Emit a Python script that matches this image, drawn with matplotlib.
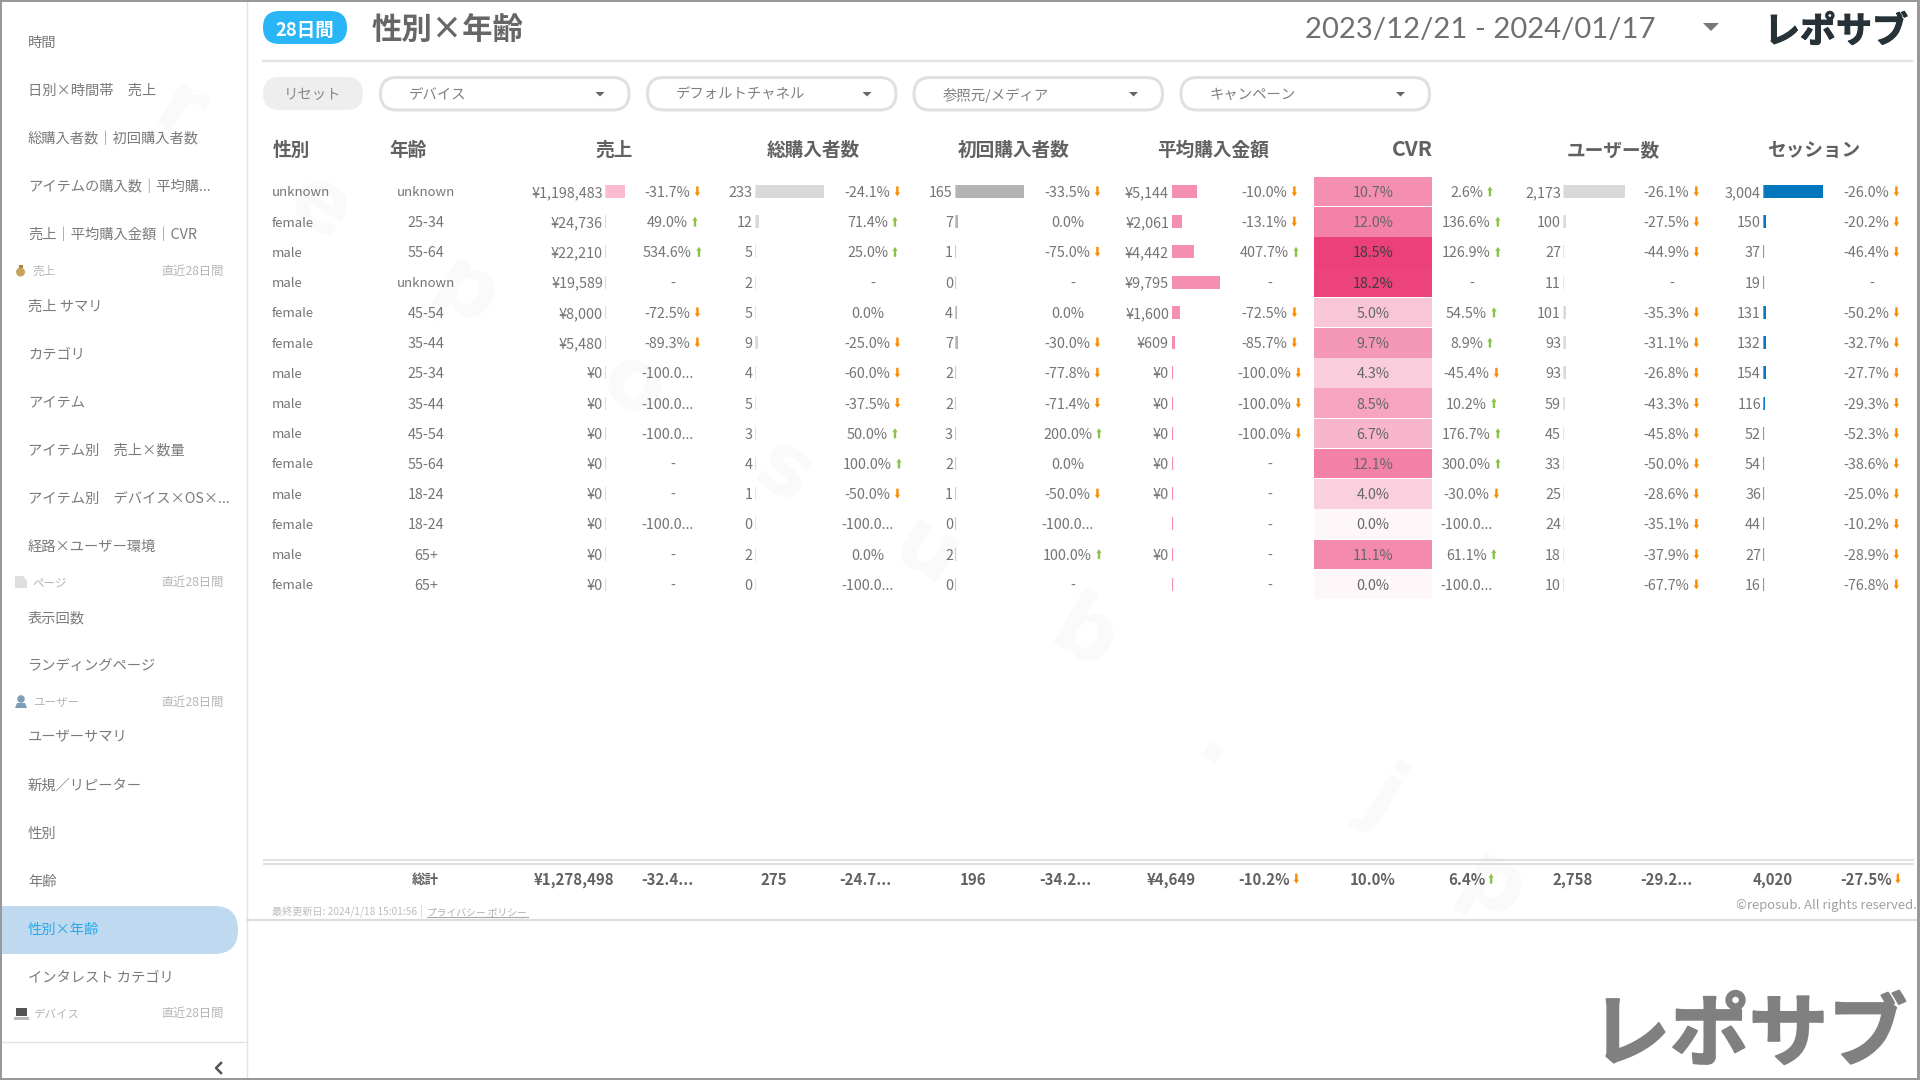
import numpy as np
import matplotlib
matplotlib.use('Agg')
import matplotlib.pyplot as plt
import matplotlib.patheffects as pe
from matplotlib.patches import FancyBboxPatch, Rectangle, Polygon, Circle
from matplotlib.colors import LinearSegmentedColormap, Normalize

plt.rcParams['font.family'] = ['Noto Sans CJK JP', 'DejaVu Sans']

# table data
gender = ['unknown', 'female', 'male', 'male', 'female', 'female', 'male', 'male', 'male', 'female', 'male', 'female', 'male', 'female']
age = ['unknown', '25-34', '55-64', 'unknown', '45-54', '35-44', '25-34', '35-44', '45-54', '55-64', '18-24', '18-24', '65+', '65+']
sales = [1198483, 24736, 22210, 19589, 8000, 5480, 0, 0, 0, 0, 0, 0, 0, 0]
sales_delta = ['-31.7%', '49.0%', '534.6%', '-', '-72.5%', '-89.3%', '-100.0...', '-100.0...', '-100.0...', '-', '-', '-100.0...', '-', '-']
buyers = [233, 12, 5, 2, 5, 9, 4, 5, 3, 4, 1, 0, 2, 0]
buyers_delta = ['-24.1%', '71.4%', '25.0%', '-', '0.0%', '-25.0%', '-60.0%', '-37.5%', '50.0%', '100.0%', '-50.0%', '-100.0...', '0.0%', '-100.0...']
first = [165, 7, 1, 0, 4, 7, 2, 2, 3, 2, 1, 0, 2, 0]
first_delta = ['-33.5%', '0.0%', '-75.0%', '-', '0.0%', '-30.0%', '-77.8%', '-71.4%', '200.0%', '0.0%', '-50.0%', '-100.0...', '100.0%', '-']
avg_price = [5144, 2061, 4442, 9795, 1600, 609, 0, 0, 0, 0, 0, None, 0, None]
avg_delta = ['-10.0%', '-13.1%', '407.7%', '-', '-72.5%', '-85.7%', '-100.0%', '-100.0%', '-100.0%', '-', '-', '-', '-', '-']
cvr = [10.7, 12.0, 18.5, 18.2, 5.0, 9.7, 4.3, 8.5, 6.7, 12.1, 4.0, 0.0, 11.1, 0.0]
cvr_delta = ['2.6%', '136.6%', '126.9%', '-', '54.5%', '8.9%', '-45.4%', '10.2%', '176.7%', '300.0%', '-30.0%', '-100.0...', '61.1%', '-100.0...']
users = [2173, 100, 27, 11, 101, 93, 93, 59, 45, 33, 25, 24, 18, 10]
users_delta = ['-26.1%', '-27.5%', '-44.9%', '-', '-35.3%', '-31.1%', '-26.8%', '-43.3%', '-45.8%', '-50.0%', '-28.6%', '-35.1%', '-37.9%', '-67.7%']
sessions = [3004, 150, 37, 19, 131, 132, 154, 116, 52, 54, 36, 44, 27, 16]
sessions_delta = ['-26.0%', '-20.2%', '-46.4%', '-', '-50.2%', '-32.7%', '-27.7%', '-29.3%', '-52.3%', '-38.6%', '-25.0%', '-10.2%', '-28.9%', '-76.8%']

total_labels = ['¥1,278,498', '-32.4...', '275', '-24.7...', '196', '-34.2...', '¥4,649', '-10.2%', '10.0%', '6.4%', '2,758', '-29.2...', '4,020', '-27.5%']

menu = ['時間', '日別×時間帯　売上', '総購入者数｜初回購入者数', 'アイテムの購入数｜平均購...', '売上｜平均購入金額｜CVR',
        '#売上', '売上 サマリ', 'カテゴリ', 'アイテム', 'アイテム別　売上×数量', 'アイテム別　デバイス×OS×...', '経路×ユーザー環境',
        '#ページ', '表示回数', 'ランディングページ',
        '#ユーザー', 'ユーザーサマリ', '新規／リピーター', '性別', '年齢', '性別×年齢', 'インタレスト カテゴリ', '#デバイス']
filters = ['デバイス', 'デフォルトチャネル', '参照元/メディア', 'キャンペーン']

W, H = 1920, 1080
ROW0, STEP = 191.4, 30.23
n = len(gender)

fig = plt.figure(figsize=(19.2, 10.8), dpi=100, facecolor='white')
ax = fig.add_axes([0, 0, 1, 1])
ax.set_xlim(0, W)
ax.set_ylim(H, 0)
ax.axis('off')

GRAY = '#757575'
DARK = '#616161'


def txt(x, y, s, px=14.4, color=GRAY, ha='left', weight='normal', z=5, **kw):
    return ax.text(x, y, s, fontsize=px * 0.72, color=color, ha=ha, va='center_baseline', weight=weight, zorder=z, **kw)


def pill(x0, x1, y0, y1, face, edge='none', lw=0, z=2):
    r = (y1 - y0) / 2
    ax.add_patch(FancyBboxPatch((x0, y0), x1 - x0, y1 - y0, boxstyle='round,pad=0,rounding_size=%f' % r,
                                fc=face, ec=edge, lw=lw, zorder=z))


def arrow(x, y, up):
    c = '#8bc34a' if up else '#fb8c00'
    s = -1 if up else 1
    hw, st = 2.6, 1.2
    pts = [(x - st, y - s * 5), (x + st, y - s * 5), (x + st, y + s * 1), (x + hw, y + s * 1),
           (x, y + s * 5), (x - hw, y + s * 1), (x - st, y + s * 1)]
    ax.add_patch(Polygon(pts, closed=True, fc=c, ec='none', zorder=5))


def delta_col(center, labels):
    for i, s in enumerate(labels):
        y = ROW0 + i * STEP
        if s == '-':
            txt(center, y, s, ha='center')
            continue
        t = txt(center - 5.5, y, s, ha='center')
        if s.endswith('...') or s == '0.0%':
            continue
        x1 = t.get_window_extent(fig.canvas.get_renderer()).x1
        arrow(x1 + 7, y, not s.startswith('-'))


def bar_col(x0, px_w, values, color, edge):
    # each bar column has its own small axes so the lengths come from the x scale
    vals = [0 if v is None else v for v in values]
    top = ROW0 - STEP / 2
    axb = fig.add_axes([x0 / W, 1 - (top + STEP * n) / H, px_w / W, STEP * n / H])
    axb.set_xlim(0, max(vals))
    axb.set_ylim(n - 0.5, -0.5)
    axb.axis('off')
    axb.patch.set_alpha(0)
    axb.barh(range(n), vals, height=13 / STEP, color=color, linewidth=0)
    axb.vlines(np.zeros(n), np.arange(n) - 6.5 / STEP, np.arange(n) + 6.5 / STEP, color=edge, lw=1.6)


# watermark
for ch, x, y in [('r', 180, 113), ('e', 320, 207), ('p', 465, 293), ('o', 633, 387), ('s', 784, 473),
                 ('u', 926, 553), ('b', 1084, 637), ('.', 1218, 743), ('j', 1384, 796), ('p', 1492, 887)]:
    ax.text(x, y, ch, fontsize=62, color='#fafafa', ha='center', va='center', rotation=-30, zorder=1, weight='bold',
            family='DejaVu Sans')

# header
pill(263, 347, 11, 44, '#29b6f6')
txt(305, 28, '28日間', px=18.5, color='white', ha='center', weight='bold')
txt(372, 27.5, '性別×年齢', px=30.4, color='#666666', weight='bold')
txt(1305, 28, '2023/12/21 - 2024/01/17', px=29.2, color='#707070', family=['Lato', 'DejaVu Sans'])
ax.add_patch(Polygon([(1703, 23), (1719, 23), (1711, 31)], fc='#777777', ec='none', zorder=5))
logo = txt(1764, 28, 'レポサブ', px=36, color='#263238', weight='bold')
logo.set_path_effects([pe.withStroke(linewidth=0.8, foreground='#263238')])
ax.plot([263, 1912], [60.7, 60.7], color='#e3e3e3', lw=1.6, zorder=2)

# filter row
pill(263, 363, 77, 110, '#eeeeee')
txt(313, 93.5, 'リセット', px=14.4, color='#888888', ha='center')
for label, x0 in zip(filters, [380.5, 647.5, 914, 1181]):
    pill(x0, x0 + 248.5, 77.5, 110, 'white', edge='#e0e0e0', lw=2.2)
    txt(x0 + 28.5, 93.5, label, px=14.4, color='#808080')
    ax.add_patch(Polygon([(x0 + 215, 92), (x0 + 224, 92), (x0 + 219.5, 96.5)], fc='#666666', ec='none', zorder=5))

# sidebar
y = 41.7
for i, m in enumerate(menu):
    if m.startswith('#'):
        y -= 11.9
        txt(32.6, y, m[1:], px=11.5, color='#b5b5b5')
        txt(223.5, y, '直近28日間', px=12.2, color='#b5b5b5', ha='right')
        ico = m[1:]
        if ico == '売上':
            ax.add_patch(Circle((20.5, 272), 4.5, fc='#c9a35e', ec='none', zorder=5))
            ax.add_patch(Rectangle((18.5, 265), 4, 3, fc='#a8843f', ec='none', zorder=5))
        elif ico == 'ページ':
            ax.add_patch(Polygon([(15, 576), (23, 576), (27, 581), (27, 588), (15, 588)], fc='#dedede', ec='none', zorder=5))
        elif ico == 'ユーザー':
            ax.add_patch(Circle((21, 699), 3.8, fc='#7f9db5', ec='none', zorder=5))
            ax.add_patch(Polygon([(15, 708), (17, 703), (25, 703), (27, 708)], fc='#7f9db5', ec='none', zorder=5))
        else:
            ax.add_patch(Rectangle((16, 1008), 11, 8, fc='#555555', ec='none', zorder=5))
            ax.add_patch(Rectangle((14, 1017), 15, 2.5, fc='#bbbbbb', ec='none', zorder=5))
        y += 35.4
    else:
        active = m == '性別×年齢'
        if active:
            pill(-40, 238, 906, 954, '#bfd9f0')
        txt(28, y, m, px=14.3, color='#29a9e8' if active else '#7a7a7a')
        y += 48
ax.plot([246.5, 246.5], [2, 1078], color='#e3e3e3', lw=1, zorder=3)
ax.plot([2, 246.5], [1041.7, 1041.7], color='#e3e3e3', lw=1, zorder=3)
ax.plot([221, 216, 221], [1063, 1068, 1073], color='#555555', lw=1.8, zorder=5)

# column titles
for s, x in [('性別', 272.5), ('年齢', 389), ('売上', 595), ('総購入者数', 767), ('初回購入者数', 957.5), ('平均購入金額', 1157.5),
             ('ユーザー数', 1567), ('セッション', 1767)]:
    txt(x, 148.2, s, px=18.7, color=DARK, weight='bold')
txt(1392, 147, 'CVR', px=21, color=DARK, weight='bold')

# rows
for i in range(n):
    y = ROW0 + i * STEP
    txt(272, y, gender[i], px=13.2)
    txt(425.7, y, age[i], ha='center', px=13.2 if age[i] == 'unknown' else 14.4)
    txt(603, y, '¥{:,}'.format(sales[i]), ha='right')
    txt(752.6, y, '{:,}'.format(buyers[i]), ha='right')
    txt(953, y, '{:,}'.format(first[i]), ha='right')
    if avg_price[i] is not None:
        txt(1169, y, '¥{:,}'.format(avg_price[i]), ha='right')
    txt(1561, y, '{:,}'.format(users[i]), ha='right')
    txt(1761, y, '{:,}'.format(sessions[i]), ha='right')

delta_col(673, sales_delta)
delta_col(873, buyers_delta)
delta_col(1073, first_delta)
delta_col(1270, avg_delta)
delta_col(1472, cvr_delta)
delta_col(1672, users_delta)
delta_col(1872, sessions_delta)

bar_col(605, 20, sales, '#f8bbd0', '#f8cfdd')
bar_col(755, 69, buyers, '#d9d9d9', '#e4e4e4')
bar_col(955, 69, first, '#b3b3b3', '#cccccc')
bar_col(1172, 48, avg_price, '#f48fb1', '#f48fb1')
bar_col(1563, 62, users, '#d9d9d9', '#e6e6e6')
bar_col(1763, 60, sessions, '#0277bd', '#5ba7d6')

# CVR heat column
cmap = LinearSegmentedColormap.from_list('cvr', [(0, '#fef7fa'), (5 / 18.5, '#f9c6d8'), (10.7 / 18.5, '#f48fb1'), (1, '#ec407a')])
norm = Normalize(0, 18.5)
top = ROW0 + 0.5 - STEP / 2
for i, v in enumerate(cvr):
    ax.add_patch(Rectangle((1313.5, top + i * STEP), 118.5, STEP - 0.6, fc=cmap(norm(v)), ec='none', zorder=2))
    txt(1373, ROW0 + i * STEP, '%.1f%%' % v, ha='center', color='#3d3d3d' if v > 15 else '#666666')

# totals
ax.plot([264, 1913], [860, 860], color='#e0e0e0', lw=1.5, zorder=2)
ax.plot([264, 1913], [864, 864], color='#e0e0e0', lw=1.5, zorder=2)
yt = 878.7
txt(425.7, yt, '総計', px=13.5, color=DARK, ha='center', weight='bold')
for s, x in zip(total_labels, [574, 667, 773.5, 865.5, 973.5, 1065.5, 1171, 1264.5, 1373, 1466.5, 1573, 1666, 1772.5, 1866]):
    t = txt(x, yt, s, px=15, color=DARK, ha='center', weight='bold')
    if s.endswith('%') and s != '10.0%':
        x1 = t.get_window_extent(fig.canvas.get_renderer()).x1
        arrow(x1 + 6, yt, not s.startswith('-'))

# footer
txt(272, 911, '最終更新日: 2024/1/18 15:01:56', px=10.1, color='#bdbdbd')
ax.plot([421, 421], [905, 917], color='#dddddd', lw=0.8, zorder=3)
txt(427, 911, 'プライバシー ポリシー', px=9.8, color='#b0b0b0')
ax.plot([427, 528], [917, 917], color='#aaaaaa', lw=0.8, zorder=3)
txt(1917, 904, '©reposub. All rights reserved.', px=13.1, color='#a0a0a0', ha='right')
ax.plot([247, 1917], [920, 920], color='#dcdcdc', lw=1.5, zorder=2)
logo2 = txt(1591, 1028, 'レポサブ', px=79, color='#808080', weight='bold')
logo2.set_path_effects([pe.withStroke(linewidth=1.5, foreground='#808080')])

# screenshot frame
for r in [(0, 0, W, 2), (0, 1078, W, 2), (0, 0, 2, H), (1917, 0, 3, H)]:
    ax.add_patch(Rectangle((r[0], r[1]), r[2], r[3], fc='#999999', ec='none', zorder=8))

fig.savefig('out.png', dpi=100)
